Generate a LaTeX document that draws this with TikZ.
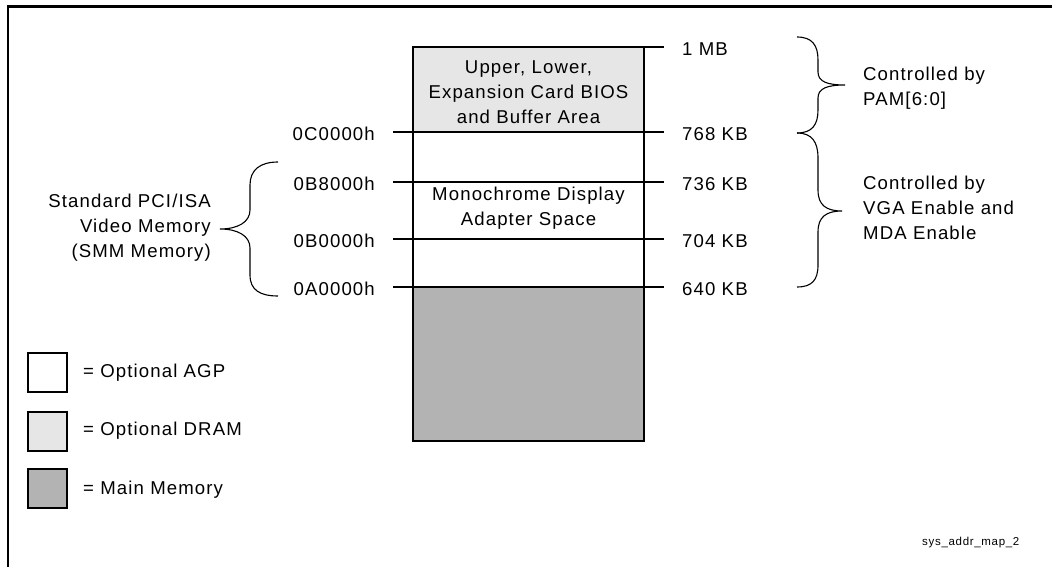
\documentclass[tikz,border=0pt]{standalone}
\usepackage{fontspec}
\setmainfont[LetterSpace=6]{Liberation Sans}
\begin{document}
\begin{tikzpicture}[x=1pt,y=-1pt,
  lbl/.style={inner sep=0pt, font=\fontsize{18.6}{25}\selectfont},
  memline/.style={line width=1.3pt},
  brace/.style={line width=1.1pt},
  frame/.style={line width=2.6pt},
  legbox/.style={draw, line width=1.2pt, minimum width=39pt, minimum height=39pt, inner sep=0pt}]
\useasboundingbox (0,0) rectangle (1052,567);
\definecolor{dramgray}{RGB}{230,230,230}
\definecolor{maingray}{RGB}{179,179,179}
% frame
\draw[frame] (8,567) -- (8,6.5) -- (1052,6.5);
% column regions
\fill[dramgray] (413,47) rectangle (644,132);
\fill[maingray] (413,287) rectangle (644,441);
% coordinates
\coordinate (t1) at (413,47);
\coordinate (t2) at (664,47);
\foreach \n/\y in {a/132,b/182,c/239,d/287}{
  \coordinate (L\n) at (393,\y);
  \coordinate (R\n) at (664,\y);
}
\draw[memline] (t1) -- (t2);
\foreach \n in {a,b,c,d}{ \draw[memline] (L\n) -- (R\n); }
\draw[memline] (413,47) rectangle (644,441);
% column labels
\node[lbl, align=center] (bios) at (528.5,92) {Upper, Lower,\\Expansion Card BIOS\\and Buffer Area};
\node[lbl, align=center] (mda) at (528.5,208.5) {Monochrome Display\\Adapter Space};
% left address labels
\node[lbl, anchor=east] (ac) at (375,134) {0C0000h};
\node[lbl, anchor=east] (ab8) at (375,184) {0B8000h};
\node[lbl, anchor=east] (ab0) at (375,241) {0B0000h};
\node[lbl, anchor=east] (aa) at (375,289) {0A0000h};
% right size labels
\node[lbl, anchor=west] (s1) at (682,49) {1 MB};
\node[lbl, anchor=west] (s768) at (682,134) {768 KB};
\node[lbl, anchor=west] (s736) at (682,184) {736 KB};
\node[lbl, anchor=west] (s704) at (682,241) {704 KB};
\node[lbl, anchor=west] (s640) at (682,289) {640 KB};
% left brace
\draw[brace] (278,162) .. controls (260,162) and (250,170) .. (250,185) -- (250,210)
  .. controls (250,222) and (238,229) .. (220,229)
  .. controls (238,229) and (250,236) .. (250,248) -- (250,275)
  .. controls (250,290) and (260,296) .. (278,296);
\node[lbl, align=right, anchor=east] (std) at (211,228) {Standard PCI/ISA\\Video Memory\\(SMM Memory)};
% right braces
\draw[brace] (797,37) .. controls (812,37) and (818,45) .. (818,60) -- (818,72)
  .. controls (818,82) and (828,85) .. (845,85)
  .. controls (828,85) and (818,88) .. (818,98) -- (818,110)
  .. controls (818,125) and (812,133) .. (797,133);
\draw[brace] (797,133) .. controls (812,133) and (818,142) .. (818,158) -- (818,190)
  .. controls (818,205) and (826,211) .. (842,211)
  .. controls (826,211) and (818,217) .. (818,232) -- (818,265)
  .. controls (818,280) and (812,287) .. (797,287);
\node[lbl, align=left, anchor=west] (pam) at (863,88) {Controlled by\\PAM[6:0]};
\node[lbl, align=left, anchor=west] (vga) at (863,208) {Controlled by\\VGA Enable and\\MDA Enable};
% legend
\node[legbox, fill=white] (k1) at (47.5,372.5) {};
\node[legbox, fill=dramgray] (k2) at (47.5,431.5) {};
\node[legbox, fill=maingray] (k3) at (47.5,488.5) {};
\node[lbl, anchor=west] (k1t) at (83,373) {= Optional AGP};
\node[lbl, anchor=west] (k2t) at (83,431) {= Optional DRAM};
\node[lbl, anchor=west] (k3t) at (83,490) {= Main Memory};
% figure id
\node[inner sep=0pt, font=\fontsize{11.5}{14}\selectfont, anchor=west] (fid) at (922,543) {sys\_addr\_map\_2};
\end{tikzpicture}
\end{document}
